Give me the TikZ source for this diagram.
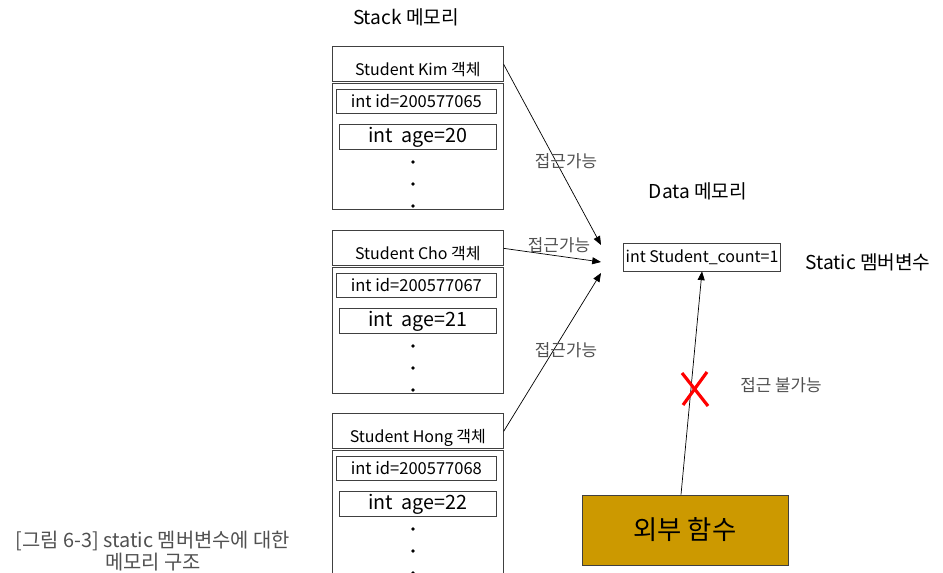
\documentclass[tikz,border=0pt]{standalone}
\usepackage{fontspec}
\setmainfont{Noto Sans CJK KR}
\usetikzlibrary{arrows.meta}

\definecolor{funcgold}{HTML}{CC9900}
\definecolor{labelgray}{HTML}{505050}
\definecolor{linegray}{HTML}{404040}

\tikzset{
  objbox/.style={draw=linegray, minimum width=3.42cm, minimum height=3.26cm, anchor=north west, inner sep=0pt},
  headbox/.style={minimum width=3.42cm, minimum height=0.72cm, anchor=north west, inner sep=0pt,
    text height=0.5cm, text depth=0.05cm, font=\fontsize{9.1}{10}\selectfont},
  idbox/.style={draw=linegray, minimum width=3.2cm, minimum height=0.48cm, anchor=north west, inner sep=0pt, font=\fontsize{9.4}{10}\selectfont},
  agebox/.style={draw=linegray, minimum width=3.14cm, minimum height=0.5cm, anchor=north west, inner sep=0pt, font=\fontsize{11.2}{12}\selectfont},
  access/.style={-{Triangle[length=5pt,width=4pt]}, black, line width=0.4pt},
  acclabel/.style={text=labelgray, font=\fontsize{9.6}{10}\selectfont},
  title/.style={font=\fontsize{10.9}{12}\selectfont},
}

\begin{document}
\begin{tikzpicture}[x=0.02cm, y=-0.02cm]
\useasboundingbox (0,0) rectangle (943,573);

% stack memory
\node[title] (stack) at (406,17) {Stack 메모리};

\foreach \nm/\who/\yy/\id/\age in {kim/Kim/46/65/20, cho/Cho/230/67/21, hong/Hong/413/68/22}{
  \node[objbox] (\nm) at (332,\yy) {};
  \node[headbox] (\nm head) at (332,\yy) {Student \who{} 객체};
  \draw[linegray, double, double distance=0.7pt] (\nm head.south west) -- (\nm head.south east);
  \node[idbox] (\nm id) at (336,{\yy+43}) {int id=2005770\id};
  \node[agebox] (\nm age) at (339,{\yy+78}) {int~~age=\age};
  \foreach \dy in {116,138,160}
    \fill (413,{\yy+\dy}) circle (1.1pt);
}

% data memory
\node[title] (data) at (698,191) {Data 메모리};
\node[draw=linegray, minimum width=3.14cm, minimum height=0.56cm, inner sep=0pt,
  font=\fontsize{9.1}{10}\selectfont] (cnt) at (702,257) {int Student\_count=1};
\node[title] (static) at (868,262) {Static 멤버변수};

\coordinate (t1) at (601,245);
\coordinate (t2) at (601,262);
\coordinate (t3) at (601,273);

\draw[access] (kimhead.east) -- (t1);
\draw[access] (chohead.east) -- (t2);
\draw[access] (honghead.east) -- (t3);

\node[acclabel] (acc1) at (566,161) {접근가능};
\node[acclabel] (acc2) at (559,245) {접근가능};
\node[acclabel] (acc3) at (566,350) {접근가능};

% outside function
\node[draw=linegray, fill=funcgold, minimum width=4.12cm, minimum height=1.4cm,
  font=\fontsize{15}{16}\selectfont] (func) at (685,530) {외부 함수};
\draw[access] ([xshift=-0.08cm]func.north) -- (cnt.south);
\draw[red, line width=1.8pt] (682,373) -- (708,406);
\draw[red, line width=1.8pt] (707,372) -- (683,405);
\node[acclabel] (noacc) at (781,385) {접근 불가능};

% caption
\node[text=labelgray, align=center, font=\fontsize{11.3}{12.6}\selectfont] (cap) at (153,551)
  {[그림 6-3] static 멤버변수에 대한\\메모리 구조};

\end{tikzpicture}
\end{document}
